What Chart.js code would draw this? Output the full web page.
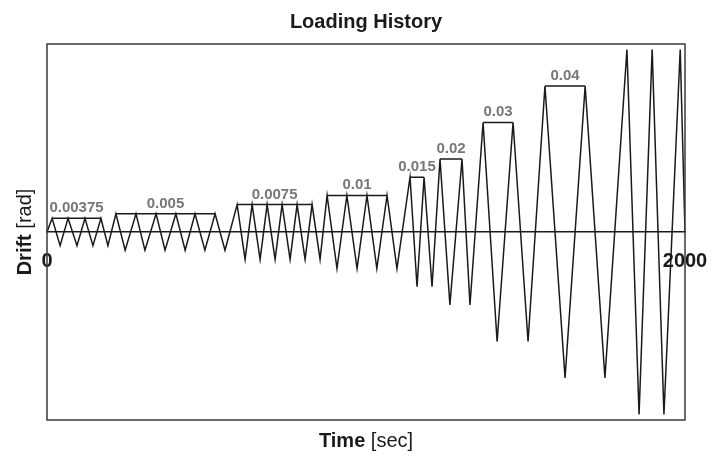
<!DOCTYPE html>
<html>
<head>
<meta charset="utf-8">
<title>Loading History</title>
<script src="https://cdn.jsdelivr.net/npm/chart.js@4.4.1/dist/chart.umd.min.js"></script>
<style>
  html, body { margin: 0; padding: 0; background: #fff; }
  canvas { display: block; }
</style>
</head>
<body>
<canvas id="myChart" width="714" height="459"></canvas>
<script>
// Zaman [sec] ve drift [rad] değerleri (tepe / çukur noktaları)
const time = [0,
    16, 41, 66, 94, 119, 144, 169, 191,
    216, 245, 279, 307, 342, 370, 404, 433, 464, 495, 527, 558,
    596, 621, 643, 668, 690, 715, 737, 762, 784, 809, 831, 856,
    878, 909, 940, 972, 1003, 1034, 1066, 1097,
    1138, 1160, 1182, 1207,
    1232, 1263, 1301, 1326,
    1367, 1411, 1461, 1508,
    1561, 1624, 1687, 1749,
    1818, 1856, 1897, 1934, 1985,
    2000];
const drift = [0,
    0.00375, -0.00375, 0.00375, -0.00375, 0.00375, -0.00375, 0.00375, -0.00375,
    0.005, -0.005, 0.005, -0.005, 0.005, -0.005, 0.005, -0.005, 0.005, -0.005, 0.005, -0.005,
    0.0075, -0.0075, 0.0075, -0.0075, 0.0075, -0.0075, 0.0075, -0.0075, 0.0075, -0.0075, 0.0075, -0.0075,
    0.01, -0.01, 0.01, -0.01, 0.01, -0.01, 0.01, -0.01,
    0.015, -0.015, 0.015, -0.015,
    0.02, -0.02, 0.02, -0.02,
    0.03, -0.03, 0.03, -0.03,
    0.04, -0.04, 0.04, -0.04,
    0.05, -0.05, 0.05, -0.05, 0.05,
    0];

// Eksen etiketleri
const xTicks = [0, 2000];
const yMin = -0.0515;
const yMax = 0.0515;

// Genlik seviyeleri ve etiketleri
const bracketLevels = [0.00375, 0.005, 0.0075, 0.01, 0.015, 0.02, 0.03, 0.04];
const bracketLabels = ['0.00375', '0.005', '0.0075', '0.01', '0.015', '0.02', '0.03', '0.04'];

const FONT = '"Liberation Sans", Arial, sans-serif';

// Her seviye için ilk ve son tepe arasında yatay çizgi
const brackets = [];
const bracketData = [];
bracketLevels.forEach((lvl, k) => {
    const ts = time.filter((t, i) => drift[i] === lvl);
    const t1 = ts[0], t2 = ts[ts.length - 1];
    brackets.push({ t1: t1, t2: t2, y: lvl, label: bracketLabels[k] });
    bracketData.push({ x: t1, y: lvl }, { x: t2, y: lvl }, { x: t2, y: null });
});

// Başlık, eksen başlıkları, seviye etiketleri ve çerçeve
const decorPlugin = {
    id: 'decor',
    afterDatasetsDraw(chart) {
        const { ctx, scales } = chart;
        ctx.save();
        ctx.fillStyle = '#777';
        ctx.font = 'bold 15px ' + FONT;
        ctx.textAlign = 'center';
        ctx.textBaseline = 'alphabetic';
        brackets.forEach(b => {
            const x = scales.x.getPixelForValue((b.t1 + b.t2) / 2);
            const y = scales.y.getPixelForValue(b.y) - 6;
            ctx.fillText(b.label, x, y);
        });
        ctx.restore();
    },
    afterDraw(chart) {
        const { ctx, chartArea } = chart;
        ctx.save();
        // çerçeve
        ctx.strokeStyle = '#3a3a3a';
        ctx.lineWidth = 1.5;
        ctx.strokeRect(chartArea.left, chartArea.top,
            chartArea.right - chartArea.left, chartArea.bottom - chartArea.top);

        const cx = (chartArea.left + chartArea.right) / 2;
        const cy = (chartArea.top + chartArea.bottom) / 2;

        // başlık
        ctx.fillStyle = '#1a1a1a';
        ctx.font = 'bold 20px ' + FONT;
        ctx.textAlign = 'center';
        ctx.textBaseline = 'alphabetic';
        ctx.fillText('Loading History', cx, 28);

        // kalın + normal karışık yazı
        function mixed(bold, normal, x, y) {
            ctx.textAlign = 'left';
            ctx.font = 'bold 20px ' + FONT;
            const w1 = ctx.measureText(bold).width;
            ctx.font = '20px ' + FONT;
            const w2 = ctx.measureText(normal).width;
            const start = x - (w1 + w2) / 2;
            ctx.font = 'bold 20px ' + FONT;
            ctx.fillText(bold, start, y);
            ctx.font = '20px ' + FONT;
            ctx.fillText(normal, start + w1, y);
        }

        mixed('Time ', '[sec]', cx, 447);

        ctx.translate(31, cy);
        ctx.rotate(-Math.PI / 2);
        mixed('Drift ', '[rad]', 0, 0);
        ctx.restore();
    }
};

const ctx = document.getElementById('myChart').getContext('2d');
let chart = new Chart(ctx, {
    type: 'line',
    data: {
        datasets: [{
            label: 'Drift',
            data: time.map((t, i) => ({ x: t, y: drift[i] })),
            borderColor: '#1a1a1a',
            borderWidth: 1.5,
            pointRadius: 0,
            tension: 0
        }, {
            label: 'Seviye',
            data: bracketData,
            borderColor: '#1a1a1a',
            borderWidth: 1.5,
            pointRadius: 0,
            spanGaps: false
        }]
    },
    options: {
        responsive: false,
        animation: false,
        layout: {
            padding: { left: 47, top: 44, right: 29, bottom: 39 }
        },
        plugins: {
            legend: { display: false },
            title: { display: false },
            tooltip: { enabled: false }
        },
        scales: {
            x: {
                type: 'linear',
                position: { y: 0 },
                min: 0,
                max: 2000,
                grid: { display: false },
                border: { display: true, color: '#1a1a1a', width: 1.5 },
                afterBuildTicks: (axis) => {
                    axis.ticks = xTicks.map(v => ({ value: v }));
                },
                afterFit: (axis) => {
                    axis.paddingLeft = 0;
                    axis.paddingRight = 0;
                },
                ticks: {
                    autoSkip: false,
                    maxRotation: 0,
                    padding: 9,
                    color: '#1a1a1a',
                    font: { family: FONT, size: 20, weight: 'bold' },
                    callback: (v) => String(v)
                }
            },
            y: {
                display: false,
                min: yMin,
                max: yMax
            }
        }
    },
    plugins: [decorPlugin]
});
</script>
</body>
</html>
